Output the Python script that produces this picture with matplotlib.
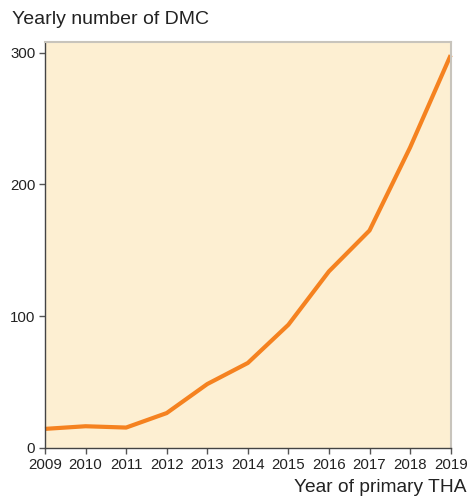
import matplotlib
matplotlib.use("Agg")
import matplotlib.pyplot as plt

years = [2009, 2010, 2011, 2012, 2013, 2014, 2015, 2016, 2017, 2018, 2019]
dmc = [14.5, 16.5, 15.5, 26.5, 48.5, 64.5, 93.5, 134, 165, 228, 298]
yticks = [0, 100, 200, 300]

plt.rcParams['font.family'] = ['Liberation Sans', 'DejaVu Sans']
fig = plt.figure(figsize=(4.69, 4.97), dpi=100)
ax = fig.add_axes([0.0959, 0.0986, 0.865, 0.8169])
ax.set_facecolor('#FDEFD2')
ax.plot(years, dmc, color='#F58220', lw=3.0, solid_capstyle='butt', clip_on=False)
ax.set_xlim(2009, 2019)
ax.set_ylim(0, 308)
ax.set_xticks(years)
ax.set_yticks(yticks)
ax.tick_params(direction='out', length=4, width=1, colors='#555555', labelcolor='#222222', labelsize=10.8, pad=3)
for s in ['left', 'bottom']:
    ax.spines[s].set_color('#444444')
    ax.spines[s].set_linewidth(1.0)
for s in ['top', 'right']:
    ax.spines[s].set_color('#C8C4BC')
    ax.spines[s].set_linewidth(1.5)
fig.text(12/469, 1 - 20/497, 'Yearly number of DMC', fontsize=14, color='#222222', va='center', ha='left')
fig.text(466/469, 1 - 487/497, 'Year of primary THA', fontsize=13.8, color='#222222', va='center', ha='right')
fig.savefig('out.png', dpi=100)
